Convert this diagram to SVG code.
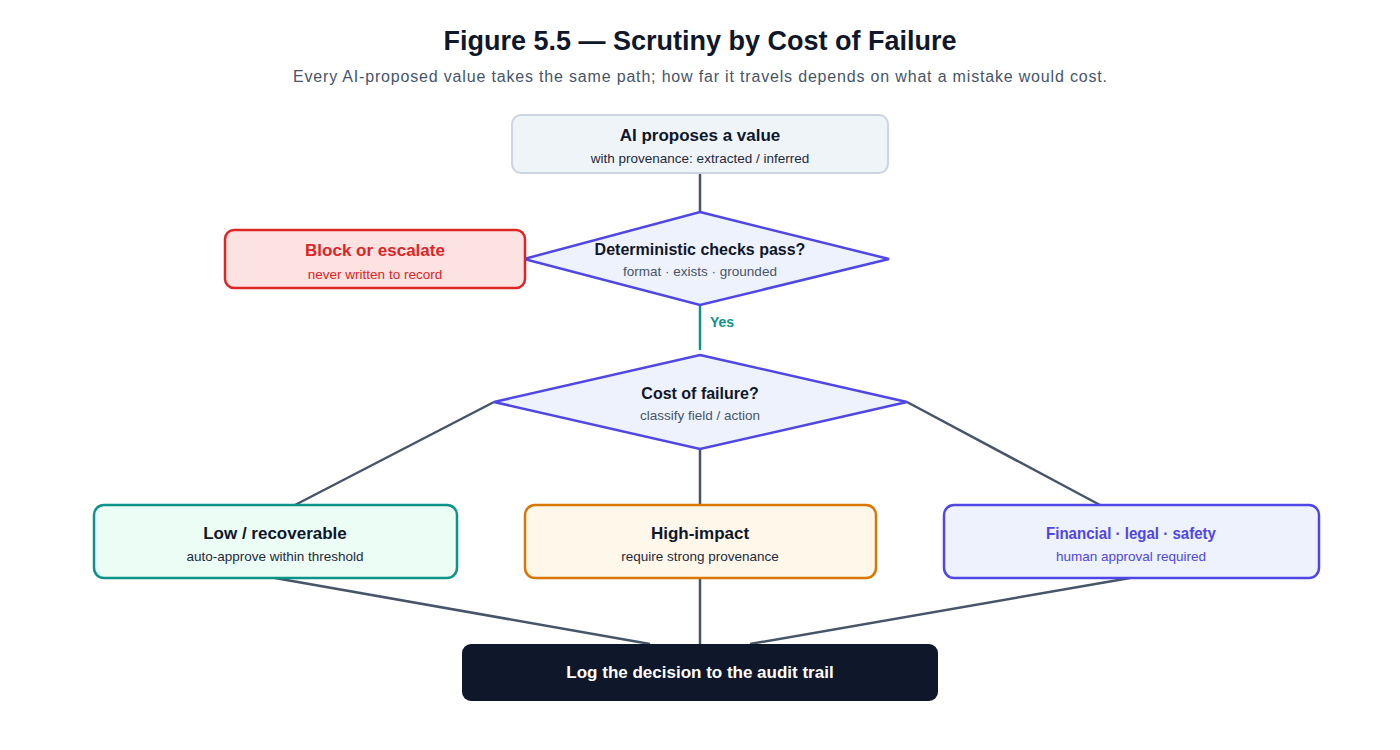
<svg xmlns="http://www.w3.org/2000/svg" width="1400" height="750" viewBox="0 0 1400 750">
<style>
text{font-family:"Liberation Sans",Arial,sans-serif;text-anchor:middle}
.t{font-size:17px;font-weight:bold;fill:#0f172a}
.s{font-size:13.5px;fill:#1e293b}
.c{stroke:#475569;stroke-width:2.5;fill:none}
</style>
<rect width="1400" height="750" fill="#fff"/>
<text x="700" y="50" style="font-size:27px;font-weight:bold;fill:#0f172a">Figure 5.5 — Scrutiny by Cost of Failure</text>
<text x="700" y="82" textLength="814" lengthAdjust="spacing" style="font-size:16px;fill:#475569">Every AI-proposed value takes the same path; how far it travels depends on what a mistake would cost.</text>
<g id="connectors">
<path class="c" d="M700 173V212M494 402L295 505M700 449V505M907 402L1100 505M275 578L650 644M700 578V644M1130 578L750 644"/>
<path d="M700 305V350" stroke="#0d9488" stroke-width="2.5"/>
<text x="722" y="327" style="font-size:14px;font-weight:bold;fill:#0d9488">Yes</text>
</g>
<g id="propose"><rect x="512" y="115" width="376" height="58" rx="9" fill="#eff4f9" stroke="#cbd5e1" stroke-width="2"/>
<text class="t" x="700" y="141">AI proposes a value</text><text class="s" x="700" y="163">with provenance: extracted / inferred</text></g>
<g id="checks"><polygon points="700,212 889,259 700,305 524,259" fill="#eef2fc" stroke="#4f46e5" stroke-width="2.5"/>
<text class="t" x="700" y="255" style="font-size:16px">Deterministic checks pass?</text><text class="s" x="700" y="276" style="fill:#475569">format · exists · grounded</text></g>
<g id="block"><rect x="225" y="230" width="300" height="58" rx="9" fill="#fde2e2" stroke="#dc2626" stroke-width="2.5"/>
<text class="t" x="375" y="256" style="fill:#dc2626">Block or escalate</text><text class="s" x="375" y="279" style="fill:#dc2626">never written to record</text></g>
<g id="cost"><polygon points="700,355 907,402 700,449 494,402" fill="#eef2fc" stroke="#4f46e5" stroke-width="2.5"/>
<text class="t" x="700" y="399" style="font-size:16px">Cost of failure?</text><text class="s" x="700" y="420" style="fill:#475569">classify field / action</text></g>
<g id="low"><rect x="94" y="505" width="363" height="73" rx="10" fill="#ecfdf5" stroke="#0d9488" stroke-width="2.5"/>
<text class="t" x="275" y="539">Low / recoverable</text><text class="s" x="275" y="561">auto-approve within threshold</text></g>
<g id="high"><rect x="525" y="505" width="351" height="73" rx="10" fill="#fef7ea" stroke="#d97706" stroke-width="2.5"/>
<text class="t" x="700" y="539">High-impact</text><text class="s" x="700" y="561">require strong provenance</text></g>
<g id="fin"><rect x="944" y="505" width="375" height="73" rx="10" fill="#eef2fc" stroke="#4f46e5" stroke-width="2.5"/>
<text class="t" x="1131" y="539" textLength="170" lengthAdjust="spacingAndGlyphs" style="fill:#4f46e5">Financial · legal · safety</text><text class="s" x="1131" y="561" style="fill:#4f46e5">human approval required</text></g>
<g id="log"><rect x="462" y="644" width="476" height="57" rx="9" fill="#0f172a"/>
<text class="t" x="700" y="678" style="fill:#fff">Log the decision to the audit trail</text></g>
</svg>
